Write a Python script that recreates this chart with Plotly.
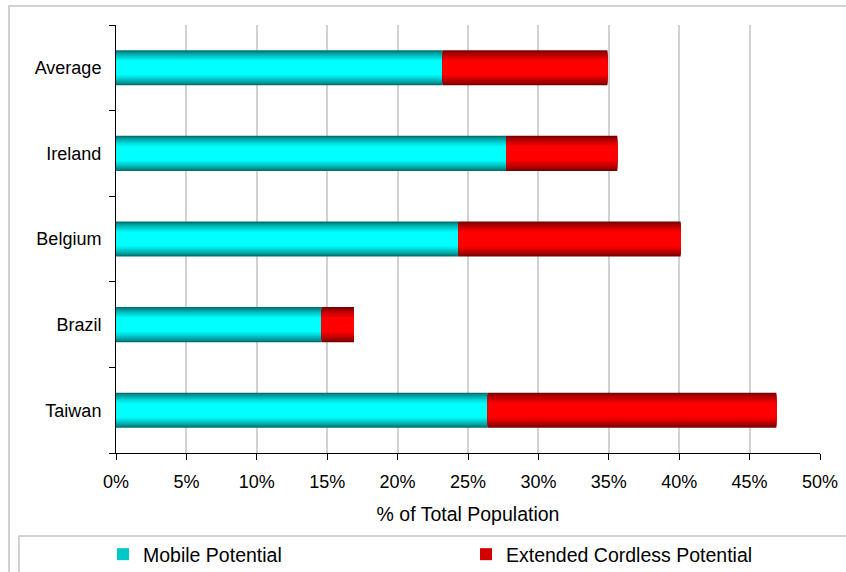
import plotly.graph_objects as go

# Data (percent of total population)
countries = ["Taiwan", "Brazil", "Belgium", "Ireland", "Average"]
mobile = [26.4, 14.6, 24.3, 27.7, 23.2]
cordless = [20.5, 2.3, 15.8, 7.9, 11.7]
tick_vals = [0, 5, 10, 15, 20, 25, 30, 35, 40, 45, 50]
tick_text = ["0%", "5%", "10%", "15%", "20%", "25%", "30%", "35%", "40%", "45%", "50%"]

BAR_W = 0.41
LAYERS = 14


def mix(c1, c2, t):
    return "rgb(%d,%d,%d)" % tuple(round(a + (b - a) * t) for a, b in zip(c1, c2))


def shaded_bars(fig, values, base, dark, bright, name, legend_color, legend_id):
    # Stack progressively narrower bars so the band looks cylinder-shaded
    for k in range(LAYERS):
        t = k / (LAYERS - 1)
        w = BAR_W * (1 - k / LAYERS)
        shade = min(1.0, (t * 1.6) ** 0.8)
        fig.add_trace(go.Bar(
            y=countries, x=values, base=base, orientation="h",
            width=w, marker=dict(color=mix(dark, bright, shade), line=dict(width=0)),
            name=name, showlegend=False, hoverinfo="skip",
        ))
    # Legend entry
    fig.add_trace(go.Bar(
        y=countries, x=[0] * len(countries), base=base, orientation="h",
        width=0, marker=dict(color=legend_color, line=dict(width=0)),
        name=name, showlegend=True, hoverinfo="skip", legend=legend_id,
    ))


fig = go.Figure()
shaded_bars(fig, mobile, [0] * len(countries), (0, 112, 112), (0, 255, 255),
            "Mobile Potential", "#00c8c8", "legend")
shaded_bars(fig, cordless, mobile, (120, 0, 0), (255, 0, 0),
            "Extended Cordless Potential", "#d40000", "legend2")

FAMILY = "Liberation Sans, Arial, sans-serif"
tick_font = dict(family=FAMILY, size=18, color="#000000")
label_font = dict(family=FAMILY, size=19.5, color="#000000")


def legend_at(px):
    return dict(
        orientation="h", xref="container", yref="container",
        x=px / 846, y=1 - 535 / 572, xanchor="left", yanchor="top",
        font=label_font, bgcolor="rgba(0,0,0,0)", borderwidth=0,
    )


fig.update_layout(
    width=846, height=572,
    margin=dict(l=116, r=26, t=25, b=119),
    paper_bgcolor="white", plot_bgcolor="white",
    barmode="overlay",
    font=tick_font,
    showlegend=True,
    legend=legend_at(103),
    legend2=legend_at(466),
    xaxis=dict(
        range=[0, 50], tickvals=tick_vals, ticktext=tick_text,
        showgrid=True, gridcolor="#d2d2d2", gridwidth=1.5,
        showline=True, linecolor="#000000", linewidth=1,
        ticks="outside", ticklen=6, tickcolor="#000000",
        ticklabelstandoff=6, zeroline=False, automargin=False,
        tickfont=tick_font,
        title=dict(text="% of Total Population", standoff=16, font=label_font),
    ),
    yaxis=dict(
        type="category", categoryorder="array", categoryarray=countries,
        showgrid=False, showline=True, linecolor="#000000", linewidth=1,
        ticks="outside", ticklen=6, tickcolor="#000000",
        tickson="boundaries", ticklabelstandoff=10, zeroline=False,
        automargin=False, tickfont=tick_font,
    ),
    shapes=[
        # outer chart frame
        dict(type="rect", xref="paper", yref="paper",
             x0=(9 - 116) / 704, x1=(860 - 116) / 704,
             y0=(453 - 590) / 428, y1=(453 - 6) / 428,
             line=dict(color="#c4c4c4", width=1.5), fillcolor="rgba(0,0,0,0)", layer="below"),
        # legend box
        dict(type="rect", xref="paper", yref="paper",
             x0=(19 - 116) / 704, x1=(860 - 116) / 704,
             y0=(453 - 590) / 428, y1=(453 - 536) / 428,
             line=dict(color="#c4c4c4", width=1.5), fillcolor="rgba(0,0,0,0)", layer="below"),
    ],
)

fig.write_html("out.html")
